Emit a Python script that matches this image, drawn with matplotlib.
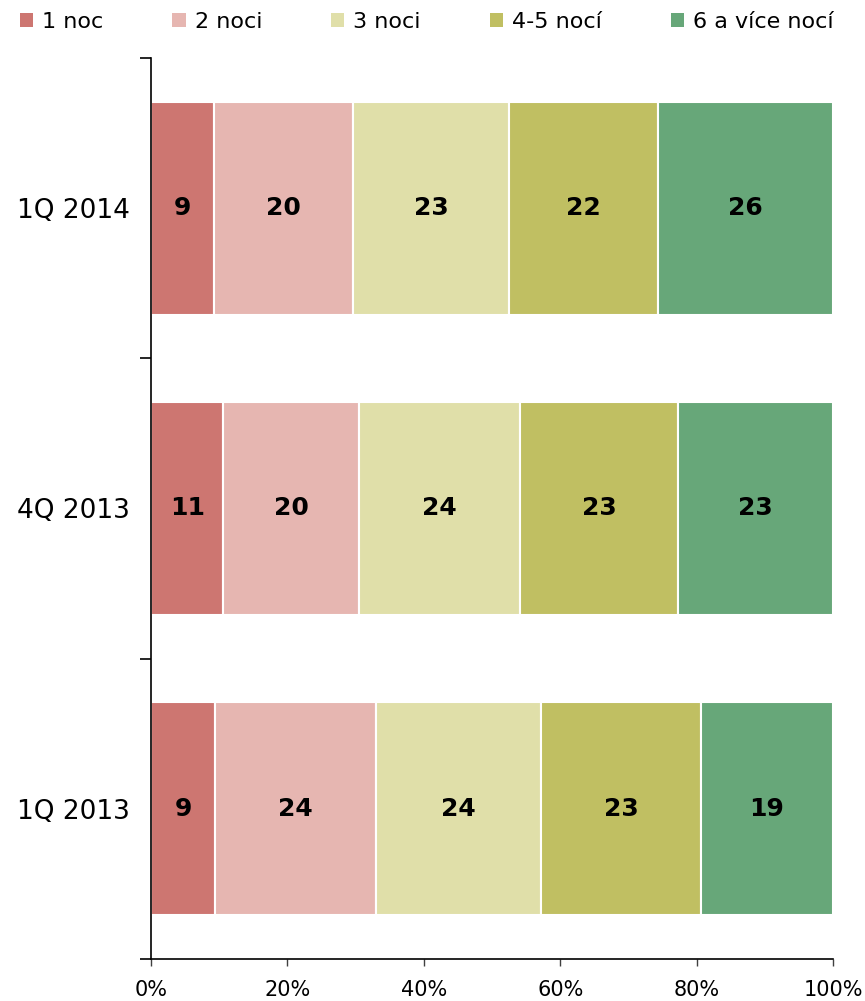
import matplotlib
matplotlib.use("Agg")
import matplotlib.pyplot as plt
from matplotlib.patches import Patch
import numpy as np

# --- data (percent shares) ---
periods = ["1Q 2014", "4Q 2013", "1Q 2013"]
series_names = ["1 noc", "2 noci", "3 noci", "4-5 nocí", "6 a více nocí"]
one_night = [9.2, 10.6, 9.4]
two_nights = [20.4, 19.9, 23.6]
three_nights = [22.9, 23.6, 24.2]
four_five_nights = [21.8, 23.2, 23.4]
six_plus_nights = [25.7, 22.7, 19.4]
colors = ["#CD7671", "#E6B6B1", "#E0DFA9", "#C0BF62", "#67A779"]
xticks = [0, 20, 40, 60, 80, 100]

series = [one_night, two_nights, three_nights, four_five_nights, six_plus_nights]

fig = plt.figure(figsize=(8.65, 10.01), dpi=100)
ax = fig.add_axes([151 / 865, 1 - 959 / 1001, (833 - 151) / 865, (959 - 58) / 1001])

# top category at top
ypos = np.arange(len(periods))[::-1]
left = np.zeros(len(periods))
for vals, col in zip(series, colors):
    vals = np.array(vals)
    ax.barh(ypos, vals, left=left, height=0.71, color=col,
            edgecolor="white", linewidth=1.5)
    for y, l, v in zip(ypos, left, vals):
        ax.text(l + v / 2, y, "%.0f" % v, ha="center", va="center",
                fontsize=18, fontweight="bold", color="black")
    left += vals

ax.set_xlim(0, 100)
ax.set_ylim(-0.5, len(periods) - 0.5)

ax.set_xticks(xticks)
ax.set_xticklabels([f"{t}%" for t in xticks], fontsize=15)
ax.tick_params(axis="x", direction="out", length=5, width=1, pad=10, color="#404040")

# category labels at centers, tick marks at boundaries
ax.set_yticks(ypos)
ax.set_yticklabels(periods, fontsize=19)
ax.tick_params(axis="y", which="major", length=0, pad=15)
ax.set_yticks(np.arange(-0.5, len(periods)), minor=True)
ax.tick_params(axis="y", which="minor", direction="out", length=8, width=1.2)

for s in ["top", "right"]:
    ax.spines[s].set_visible(False)
ax.spines["left"].set_linewidth(1.2)
ax.spines["bottom"].set_linewidth(1.2)

handles = [Patch(facecolor=c, edgecolor="none") for c in colors]
fig.legend(handles, series_names, loc="center left", bbox_to_anchor=(20 / 865, 1 - 22 / 1001),
           ncol=5, frameon=False, fontsize=16, handlelength=0.6, handleheight=0.6,
           handletextpad=0.4, columnspacing=3.1, borderaxespad=0, borderpad=0)

fig.savefig("out.png", dpi=100)
